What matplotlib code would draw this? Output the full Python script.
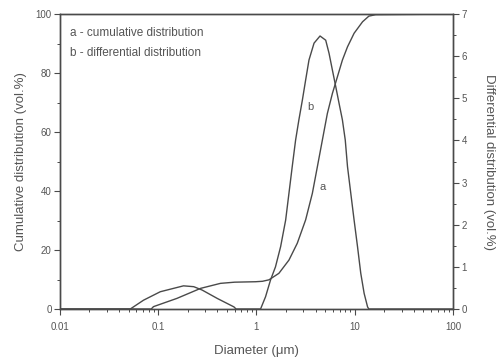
import matplotlib
matplotlib.use("Agg")
import matplotlib.pyplot as plt
from matplotlib.ticker import MultipleLocator, LogLocator, FixedFormatter, FixedLocator, NullFormatter

plt.rcParams['font.family'] = ['Liberation Sans', 'DejaVu Sans']

# cumulative distribution (curve a), left axis, vol.%
cum_d = [0.01, 0.085, 0.0895, 0.155, 0.27, 0.43, 0.6, 0.977, 1.15, 1.34, 1.69, 2.14,
         2.60, 3.16, 3.70, 4.16, 4.68, 5.26, 5.92, 6.65, 7.48, 8.43, 9.84, 12.0,
         13.9, 16.3, 100.0]
cum_v = [0, 0, 0.8, 3.6, 7.0, 8.7, 9.1, 9.25, 9.4, 9.9, 12.1, 16.6,
         22.3, 30.2, 39.2, 48.2, 57.3, 66.3, 73.1, 78.7, 84.4, 88.9, 93.5, 97.4,
         99.3, 99.8, 100]

# differential distribution (curve b), right axis, vol.%
diff_d = [0.01, 0.052, 0.071, 0.105, 0.181, 0.23, 0.28, 0.40, 0.59, 0.62, 1.10,
          1.236, 1.39, 1.56, 1.76, 1.98, 2.14, 2.31, 2.50, 2.70, 2.93, 3.16, 3.42,
          3.85, 4.43, 5.06, 5.47, 5.92, 6.40, 6.92, 7.48, 8.0, 8.43, 9.10, 9.84,
          10.66, 11.5, 12.45, 13.49, 13.9, 100.0]
diff_v = [0, 0, 0.21, 0.41, 0.55, 0.53, 0.45, 0.25, 0.05, 0, 0,
          0.29, 0.69, 1.00, 1.48, 2.11, 2.75, 3.38, 4.01, 4.49, 4.96, 5.43, 5.91,
          6.31, 6.48, 6.38, 6.07, 5.67, 5.28, 4.88, 4.49, 4.01, 3.38, 2.75, 2.11,
          1.48, 0.85, 0.37, 0.05, 0, 0]

x_ticks = [0.01, 0.1, 1, 10, 100]
x_labels = ['0.01', '0.1', '1', '10', '100']

line_col = '#4a4a4a'
text_col = '#555555'

fig = plt.figure(figsize=(4.99, 3.61), dpi=100)
ax = fig.add_axes([0.120, 0.144, 0.788, 0.817])
ax2 = ax.twinx()

ax.plot(cum_d, cum_v, color=line_col, lw=1.0)
ax2.plot(diff_d, diff_v, color=line_col, lw=1.0)

ax.set_xscale('log')
ax.set_xlim(0.01, 100)
ax.set_ylim(0, 100)
ax2.set_ylim(0, 7)

ax.xaxis.set_major_locator(FixedLocator(x_ticks))
ax.xaxis.set_major_formatter(FixedFormatter(x_labels))
ax.xaxis.set_minor_locator(LogLocator(base=10, subs=range(2, 10)))
ax.xaxis.set_minor_formatter(NullFormatter())
ax.yaxis.set_major_locator(MultipleLocator(20))
ax.yaxis.set_minor_locator(MultipleLocator(10))
ax2.yaxis.set_major_locator(MultipleLocator(1))
ax2.yaxis.set_minor_locator(MultipleLocator(0.5))

for a in (ax, ax2):
    a.tick_params(which='major', direction='out', length=4, width=0.8,
                  colors=line_col, labelcolor=text_col, labelsize=7, pad=2)
    a.tick_params(which='minor', direction='out', length=2.5, width=0.7, colors=line_col)
    for s in a.spines.values():
        s.set_color(line_col)
        s.set_linewidth(1.0)
ax.tick_params(axis='x', which='major', pad=5)

ax.set_xlabel('Diameter (\u03bcm)', color=text_col, fontsize=9.5, labelpad=10)
ax.set_ylabel('Cumulative distribution (vol.%)', color=text_col, fontsize=9.5, labelpad=6)
ax2.set_ylabel('Differential distribution (vol.%)', color=text_col, fontsize=9.5,
               rotation=270, labelpad=20)

ax.text(0.027, 0.935, 'a - cumulative distribution', transform=ax.transAxes,
        color=text_col, fontsize=8.5, va='center')
ax.text(0.027, 0.868, 'b - differential distribution', transform=ax.transAxes,
        color=text_col, fontsize=8.5, va='center')

ax.text(4.7, 41.4, 'a', color=text_col, fontsize=8, ha='center', va='center')
ax.text(3.56, 68.6, 'b', color=text_col, fontsize=8, ha='center', va='center')

fig.savefig('out.png', dpi=100)
